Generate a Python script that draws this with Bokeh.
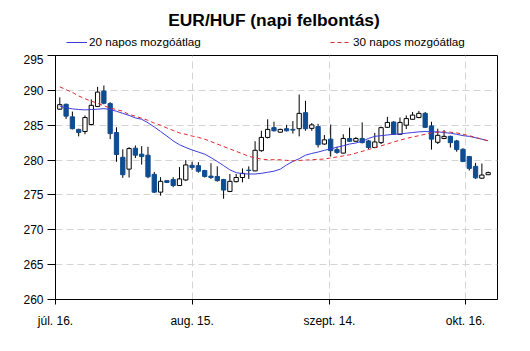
from bokeh.plotting import figure
from bokeh.layouts import column
from bokeh.models import (ColumnDataSource, FixedTicker, Legend, LegendItem, Range1d, Label)
from bokeh.embed import file_html
from bokeh.resources import INLINE

title_text = "EUR/HUF (napi felbontás)"
legend_labels = ["20 napos mozgóátlag", "30 napos mozgóátlag"]
tick_labels = ["júl. 16.", "aug. 15.", "szept. 14.", "okt. 16."]
tick_pos = [-0.68, 21.0, 42.8, 64.4]

open_ = [287.3, 288.0, 286.2, 284.4, 284.1, 285.1, 287.7, 289.9, 288.1, 283.95,
         280.4, 278.7, 281.7, 280.85, 280.7, 277.95, 275.4, 277.05, 277.2, 276.35,
         277.15, 279.25, 279.2, 278.5, 277.7, 277.65, 277.2, 275.5, 276.9, 277.5,
         278.55, 278.45, 281.35, 283.25, 284.65, 284.0, 284.5, 284.4, 284.5, 286.8,
         284.55, 284.8, 282.3, 283.0, 281.5, 281.0, 283.1, 282.7, 283.1, 282.75,
         281.8, 282.5, 284.7, 285.45, 283.7, 285.0, 285.85, 286.1, 286.7, 284.9,
         282.55, 283.1, 283.4, 282.75, 281.55, 280.5, 279.1, 277.4, 277.9]
high = [289.0, 288.1, 286.95, 284.5, 286.4, 288.7, 290.5, 290.7, 288.3, 284.7,
        281.55, 281.85, 282.1, 282.0, 281.9, 278.3, 277.55, 277.1, 277.55, 279.0,
        280.0, 279.75, 279.7, 278.6, 279.55, 279.1, 277.3, 278.0, 278.0, 278.8,
        279.1, 282.7, 284.2, 285.85, 285.5, 284.5, 285.05, 285.6, 289.4, 288.5,
        285.3, 285.2, 283.6, 285.1, 281.9, 283.7, 284.65, 283.3, 285.4, 282.9,
        283.9, 284.8, 286.2, 285.6, 286.1, 286.4, 286.9, 287.05, 286.9, 285.5,
        284.5, 284.3, 283.5, 282.9, 281.7, 280.6, 279.6, 279.5, 278.35]
low = [287.2, 285.9, 284.4, 283.4, 283.7, 285.0, 287.6, 288.0, 283.0, 279.75,
       277.45, 277.5, 280.3, 279.35, 277.4, 275.3, 274.9, 276.7, 276.1, 276.3,
       277.0, 278.6, 278.2, 277.5, 277.3, 276.9, 274.45, 275.4, 276.8, 276.8,
       277.3, 278.4, 281.2, 283.1, 284.1, 283.95, 284.1, 283.8, 283.4, 284.2,
       284.2, 281.8, 282.2, 280.5, 280.9, 280.95, 282.6, 282.6, 282.4, 281.6,
       281.7, 282.3, 284.6, 283.6, 283.6, 284.45, 285.8, 286.0, 284.6, 281.5,
       282.3, 283.0, 281.8, 281.2, 279.7, 278.5, 277.3, 277.3, 277.85]
close = [287.95, 286.3, 284.5, 283.95, 286.1, 287.85, 289.75, 288.15, 283.8, 280.8,
         277.9, 281.65, 280.7, 280.5, 277.6, 275.4, 276.95, 276.8, 276.35, 277.3,
         279.3, 278.95, 278.4, 277.65, 277.5, 277.05, 275.7, 276.95, 277.5, 278.1,
         278.5, 281.4, 283.25, 284.4, 284.2, 284.4, 284.2, 284.3, 286.7, 284.5,
         285.05, 282.2, 282.9, 281.35, 281.1, 283.1, 282.7, 283.1, 282.5, 281.8,
         282.6, 284.65, 285.4, 283.7, 285.4, 285.95, 286.45, 286.7, 284.7, 283.0,
         283.55, 283.4, 282.5, 281.5, 279.8, 278.8, 277.45, 277.85, 278.2]
ma20 = [287.75, 287.5, 287.35, 287.25, 287.2, 287.25, 287.3, 287.38, 287.25, 287.0,
        286.7, 286.4, 286.05, 285.85, 285.35, 284.75, 284.1, 283.45, 282.75, 282.2,
        281.8, 281.45, 281.15, 280.85, 280.35, 279.8, 279.2, 278.6, 278.2, 278.05,
        278.0, 278.0, 278.1, 278.25, 278.4, 278.7, 279.3, 279.8, 280.2, 280.7,
        280.95, 281.15, 281.4, 281.6, 281.85, 282.05, 282.3, 282.45, 282.7, 283.1,
        283.4, 283.5, 283.6, 283.7, 283.75, 283.85, 283.95, 284.05, 284.1, 284.05,
        284.05, 283.95, 283.85, 283.7, 283.5, 283.4, 283.2, 283.0, 282.76]
ma30 = [290.5, 290.1, 289.7, 289.2, 288.8, 288.45, 288.15, 287.8, 287.45, 287.25,
        287.0, 286.55, 286.3, 286.0, 285.7, 285.3, 285.0, 284.6, 284.25, 283.9,
        283.7, 283.45, 283.25, 283.0, 282.65, 282.3, 281.95, 281.6, 281.25, 280.9,
        280.55, 280.3, 280.15, 280.05, 280.05, 280.05, 279.95, 279.9, 279.95, 280.0,
        280.05, 280.1, 280.15, 280.3, 280.45, 280.6, 280.75, 281.0, 281.25, 281.5,
        281.8, 282.05, 282.3, 282.6, 282.85, 283.1, 283.3, 283.5, 283.7, 283.9,
        284.0, 284.05, 284.0, 283.9, 283.7, 283.5, 283.25, 283.0, 282.76]

n = len(close)
xs = list(range(n))
top = [max(o, c) for o, c in zip(open_, close)]
bot = [min(o, c) for o, c in zip(open_, close)]
up = [c > o for o, c in zip(open_, close)]
fill = ["white" if u else "#0f4c91" for u in up]
edge = ["black" if u else "#0f4c91" for u in up]

src = ColumnDataSource(dict(x=xs, high=high, low=low, top=top, bot=bot, fill=fill, edge=edge))
ma_src = ColumnDataSource(dict(x=xs, ma20=ma20, ma30=ma30))

FONT = "Liberation Sans"
BLUE_MA = dict(line_color="#3c3cdc", line_width=1)
RED_MA = dict(line_color="#e0282d", line_width=1, line_dash="4 3")
W, H, HEAD_H = 530, 351, 54
FL, FR = 55, 497   # frame edges shared by both stacked figures

# ---------- header (title + legend); its frame is aligned with the chart frame ----------
head = figure(width=W, height=HEAD_H, output_backend="svg", toolbar_location=None,
              x_range=Range1d(FL, FR), y_range=Range1d(0, HEAD_H),
              min_border_left=FL, min_border_right=W - FR,
              min_border_top=0, min_border_bottom=0,
              background_fill_color="white", border_fill_color="white")
head.axis.visible = False
head.grid.visible = False
head.outline_line_color = None
head.add_layout(Label(x=273.5, y=34.5, text=title_text, text_font=FONT, text_font_size="17.4px",
                      text_font_style="bold", text_color="black",
                      text_align="center", text_baseline="middle"))
# legend proxies: same data, but outside the header's ranges, so only the legend swatch shows
d20 = head.line("x", "ma20", source=ma_src, **BLUE_MA)
d30 = head.line("x", "ma30", source=ma_src, **RED_MA)

def mk_legend(label, r, loc):
    return Legend(items=[LegendItem(label=label, renderers=[r])], location=loc,
                  border_line_color=None, background_fill_alpha=0, padding=0, margin=0,
                  label_text_font=FONT, label_text_font_size="11.7px", label_text_color="black",
                  glyph_width=21, glyph_height=12, label_height=12, label_standoff=2)

head.add_layout(mk_legend(legend_labels[0], d20, (66 - FL, 6)))
head.add_layout(mk_legend(legend_labels[1], d30, (330 - FL, 6)))

# ---------- main chart ----------
p = figure(width=W, height=H - HEAD_H, output_backend="svg", toolbar_location=None,
           x_range=Range1d(-0.68, 69.48), y_range=Range1d(260, 295),
           min_border_left=FL, min_border_right=W - FR, min_border_top=1, min_border_bottom=52,
           background_fill_color="white", border_fill_color="white")

p.outline_line_color = "black"
p.outline_line_width = 1

p.ygrid.ticker = FixedTicker(ticks=[265, 270, 275, 280, 285, 290])
p.xgrid.ticker = FixedTicker(ticks=tick_pos[1:])
for g in (p.xgrid, p.ygrid):
    g.grid_line_color = "#d4d4d4"
    g.grid_line_dash = "7 4"
    g.grid_line_width = 1

p.yaxis.ticker = FixedTicker(ticks=[260, 265, 270, 275, 280, 285, 290, 295])
p.xaxis.ticker = FixedTicker(ticks=tick_pos)
p.xaxis.major_label_overrides = {t: l for t, l in zip(tick_pos, tick_labels)}
for ax in (p.xaxis[0], p.yaxis[0]):
    ax.axis_line_color = "black"
    ax.major_tick_line_color = "black"
    ax.minor_tick_line_color = None
    ax.major_tick_in = 0
    ax.major_label_text_font = FONT
    ax.major_label_text_font_size = "12px"
    ax.major_label_text_color = "black"
p.yaxis.major_tick_out = 8
p.yaxis.major_label_standoff = 4
p.xaxis.major_tick_out = 5
p.xaxis.major_label_standoff = 9

p.segment(x0="x", y0="low", x1="x", y1="high", source=src, line_color="black", line_width=1)
p.vbar(x="x", top="top", bottom="bot", width=0.68, source=src,
       fill_color="fill", line_color="edge", line_width=1)

p.line("x", "ma20", source=ma_src, **BLUE_MA)
p.line("x", "ma30", source=ma_src, **RED_MA)

layout = column(head, p, spacing=0)
open("out.html", "w").write(file_html(layout, INLINE))
